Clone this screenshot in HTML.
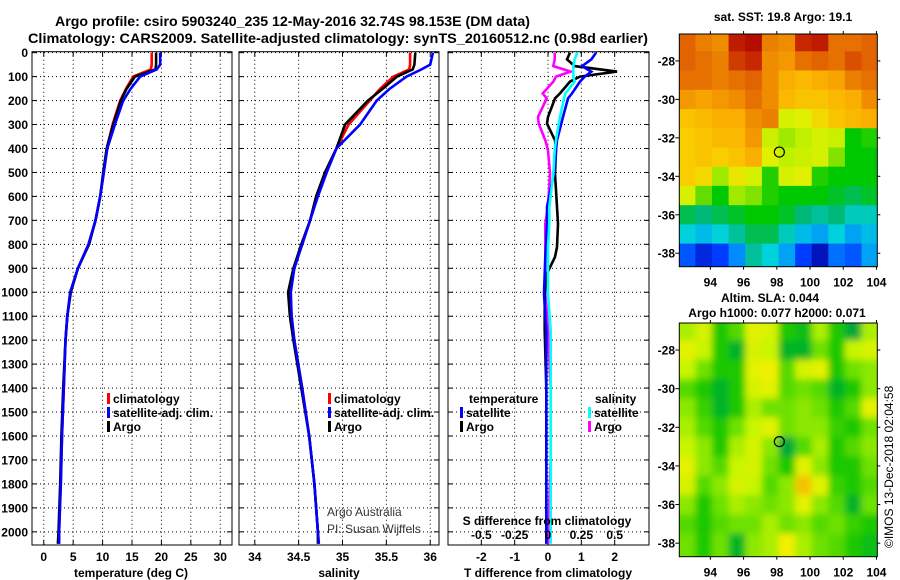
<!DOCTYPE html>
<html><head><meta charset="utf-8"><style>
html,body{margin:0;padding:0;background:#fff;}
svg{display:block;font-family:"Liberation Sans",sans-serif;}
.b{font-weight:bold;font-size:12px;}
</style></head><body>
<svg id="chart" width="900" height="580" viewBox="0 0 900 580" xmlns="http://www.w3.org/2000/svg">
<defs>
<clipPath id="c1"><rect x="32" y="51.7" width="200" height="493.3"/></clipPath>
<clipPath id="c2"><rect x="239" y="51.7" width="200" height="493.3"/></clipPath>
<clipPath id="c3"><rect x="448" y="51.7" width="201" height="493.3"/></clipPath>
<clipPath id="cm1"><rect x="679.3" y="34" width="198" height="232.7"/></clipPath>
<clipPath id="cm2"><rect x="679.3" y="323" width="198" height="233.7"/></clipPath>
<filter id="blur" x="-5%" y="-5%" width="110%" height="110%"><feGaussianBlur stdDeviation="3.5"/></filter>
</defs>
<text x="55" y="26" class="b" style="font-size:14px" textLength="475" lengthAdjust="spacingAndGlyphs">Argo profile: csiro 5903240_235 12-May-2016 32.74S 98.153E (DM data)</text>
<text x="28" y="43" class="b" style="font-size:14px" textLength="620" lengthAdjust="spacingAndGlyphs">Climatology: CARS2009. Satellite-adjusted climatology: synTS_20160512.nc (0.98d earlier)</text>
<g id="panels"></g>
<g id="maps"></g>
<text transform="translate(893,548) rotate(-90)" style="font-size:12px">©IMOS 13-Dec-2018 02:04:58</text>
</svg>
<script>
// ---------- profile data ----------
const pres = [0,50,70,100,150,200,300,400,500,600,700,800,900,1000,1100,1200,1400,1600,1800,2000,2050];
const tempArgo = [19.1,19.1,19.0,15.5,14.1,13.1,11.8,10.7,10.1,9.6,8.8,7.7,5.8,4.6,4.0,3.7,3.3,3.0,2.8,2.5,2.4];
const tempSat  = [19.8,19.8,19.2,16.4,14.8,13.5,12.1,10.8,10.2,9.6,8.8,7.6,5.8,4.5,4.0,3.7,3.4,3.1,2.9,2.6,2.6];
const tempClim = [18.35,18.35,18.2,15.2,14.0,13.0,11.7,10.7,10.2,9.6,8.8,7.6,5.8,4.5,4.0,3.7,3.4,3.1,2.9,2.6,2.6];
const salArgo = [35.83,35.82,35.80,35.62,35.46,35.29,35.03,34.93,34.80,34.70,34.63,34.53,34.44,34.38,34.40,34.44,34.53,34.62,34.68,34.72,34.72];
const salSat  = [36.03,36.00,35.90,35.73,35.54,35.39,35.20,34.93,34.82,34.72,34.63,34.54,34.45,34.41,34.42,34.45,34.54,34.62,34.68,34.72,34.73];
const salClim = [35.77,35.77,35.76,35.58,35.43,35.31,35.07,34.93,34.80,34.70,34.63,34.54,34.45,34.40,34.42,34.45,34.54,34.62,34.68,34.72,34.73];
// difference profiles
const dPres = [0,28,56,79,100,121,170,191,268,296,366,407,505,644,714,811,853,922,1006,1159,1400,1700,2050];
const dTArgo = [0.66,0.57,0.8,2.07,0.96,0.66,0.36,0.21,0,-0.03,0.21,0.24,0.21,0.27,0.3,0.27,0.21,-0.03,-0.1,-0.1,-0.05,-0.05,-0.05];
const dTSat  = [1.44,1.3,1.02,1.3,1.1,0.96,0.72,0.6,0.45,0.4,0.27,0.24,0.18,-0.03,-0.03,-0.06,-0.08,-0.1,-0.12,-0.05,-0.05,-0.05,-0.05];
const dSSat  = [0.22,0.2,0.19,0.19,0.19,0.2,0.13,0.12,0.09,0.08,0.06,0.05,0.04,0.01,0.01,0.0,0.0,0.0,0.0,0.02,0.02,0.02,0.02];
const dSArgo = [0.05,0.05,0.04,0.17,0.06,0.04,-0.04,-0.01,-0.075,-0.07,-0.02,0.0,0.015,0.0,-0.02,-0.02,-0.02,-0.02,-0.02,0.0,0.02,0.02,0.0];
const pTicks = [0,100,200,300,400,500,600,700,800,900,1000,1100,1200,1300,1400,1500,1600,1700,1800,1900,2000];
const tTicks = [0,5,10,15,20,25,30];
const sTicks = [34,34.5,35,35.5,36];
const sTickLabels = ["34","34.5","35","35.5","36"];
const dTicks = [-2,-1,0,1,2];
const dsTicks = [-0.5,-0.25,0,0.25,0.5];
const dsTickLabels = ["-0.5","-0.25","0","0.25","0.5"];
// ---------- map data (rows lat -27..-38, cols lon 92.6..103.6) ----------
const mapLats = [-27,-28,-29,-30,-31,-32,-33,-34,-35,-36,-37,-38];
const mapLons = [92.6,93.6,94.6,95.6,96.6,97.6,98.6,99.6,100.6,101.6,102.6,103.6];
const sst = [
[20.9,20.7,20.6,21.3,21.4,20.7,20.6,21.2,21.3,20.8,20.8,20.9],
[20.9,20.8,20.7,21.1,21.2,20.6,20.5,20.8,20.9,20.8,21.0,20.9],
[20.8,20.8,20.7,20.8,20.9,20.6,20.3,20.2,20.3,20.4,20.7,20.8],
[20.5,20.4,20.5,20.6,20.8,20.6,20.2,20.1,20.1,20.2,20.3,20.6],
[20.1,20.2,20.3,20.3,20.6,20.7,19.6,19.7,19.9,20.1,20.2,20.3],
[20.0,20.1,20.2,20.2,20.5,19.5,19.3,19.4,19.6,19.5,18.8,18.9],
[20.0,20.1,20.0,20.1,20.3,19.7,19.4,19.5,19.6,19.2,18.8,18.8],
[20.0,19.9,19.3,19.8,19.6,18.9,19.6,19.7,18.9,18.8,18.8,18.8],
[19.6,19.1,18.8,19.3,19.2,18.9,18.8,18.8,18.8,18.7,18.6,18.7],
[18.6,18.5,18.6,18.7,18.8,18.8,18.7,18.5,18.4,18.5,18.3,18.3],
[18.2,18.1,18.2,18.4,18.6,18.6,18.3,18.1,18.0,18.2,18.0,18.1],
[17.7,17.5,17.6,17.9,18.4,18.2,18.0,17.6,17.4,17.8,17.7,18.0]];
const sla = [
[0.05,0.07,0.0,0.02,0.08,0.07,0.0,-0.01,0.05,0.0,-0.03,0.05],
[0.08,0.06,0.0,-0.02,0.07,0.06,-0.02,-0.02,0.03,0.0,0.06,0.07],
[0.06,0.03,0.0,0.0,0.08,0.09,0.02,0.07,0.08,0.0,0.03,0.04],
[0.02,0.0,-0.02,0.0,0.07,0.08,0.02,0.03,0.02,-0.02,0.0,0.04],
[0.04,0.01,-0.02,0.0,0.05,0.03,0.03,0.04,0.03,0.0,0.02,0.08],
[0.05,0.02,0.0,0.03,0.06,0.08,0.03,0.04,0.04,0.01,0.0,0.03],
[0.06,0.04,0.0,0.05,0.07,0.04,-0.03,0.02,0.05,0.0,0.02,0.04],
[0.08,0.04,0.02,0.06,0.07,0.03,0.0,0.08,0.04,0.0,0.0,0.03],
[0.07,0.02,0.04,0.07,0.06,0.02,0.04,0.13,0.08,0.01,0.0,0.02],
[0.04,0.0,0.03,0.05,0.04,0.03,0.04,0.08,0.04,0.02,-0.02,0.03],
[0.02,0.0,0.02,0.03,0.03,0.05,0.03,0.04,0.02,0.03,0.01,0.0],
[0.03,0.0,0.03,-0.02,0.04,0.05,0.09,0.05,0.03,0.02,0.0,-0.01]];
const latTicks = [-28,-30,-32,-34,-36,-38];
const lonTicks = [94,96,98,100,102,104];
const argoLon = 98.153, argoLat = -32.74;

const NS = "http://www.w3.org/2000/svg";
function mk(tag, attrs, parent, text){const e=document.createElementNS(NS,tag);for(const k in attrs)e.setAttribute(k,attrs[k]);if(text!==undefined)e.textContent=text;parent.appendChild(e);return e;}
const lin=(d0,d1,r0,r1)=>v=>r0+(v-d0)*(r1-r0)/(d1-d0);
const Y0=51.7,Y1=545;
const yP=lin(-4,2055,Y0,Y1);
const panels=document.getElementById('panels');
const P=[
 {x0:32,x1:232,x:lin(-2,32,32,232),clip:'c1',name:'temperature-panel'},
 {x0:239,x1:439,x:lin(33.82,36.1,239,439),clip:'c2',name:'salinity-panel'},
 {x0:448,x1:649,x:lin(-3,3.03,448,649),clip:'c3',name:'difference-panel'}];
P.forEach((p,i)=>{
 const g=mk('g',{},panels);
 
 
 const grid=mk('g',{stroke:'#000','stroke-width':1,'stroke-dasharray':'1 3'},g);
 
 
 pTicks.forEach(t=>{const y=yP(t);mk('line',{x1:p.x0,x2:p.x1,y1:y,y2:y},grid);
  mk('line',{x1:p.x0,x2:p.x0+5,y1:y,y2:y,stroke:'#000'},g);
  mk('line',{x1:p.x1-5,x2:p.x1,y1:y,y2:y,stroke:'#000'},g);
 });
 const xt=i==0?tTicks:i==1?sTicks:dTicks;
 xt.forEach(t=>{const x=p.x(t);mk('line',{x1:x,x2:x,y1:Y0,y2:Y1},grid);});
 mk('rect',{x:p.x0,y:Y0,width:p.x1-p.x0,height:Y1-Y0,fill:'none',stroke:'#000','stroke-width':1},g);
 xt.forEach((t,k)=>{const x=p.x(t);
  mk('line',{x1:x,x2:x,y1:Y1,y2:Y1-5,stroke:'#000'},g);
  mk('line',{x1:x,x2:x,y1:Y0,y2:Y0+5,stroke:'#000'},g);
  const lab=mk('text',{x:x,y:561,'text-anchor':'middle',class:'b'},g,i==1?sTickLabels[k]:String(t));
  
  
 });
});
pTicks.forEach(t=>{const l=mk('text',{x:28,y:yP(t)+4.5,'text-anchor':'end',class:'b'},panels,String(t));
 
 });
function line(p,xs,ys,col,name,w){const g=mk('g',{'clip-path':'url(#'+p.clip+')'},panels);
 const pts=xs.map((v,k)=>p.x(v).toFixed(1)+','+yP(ys[k]).toFixed(1)).join(' ');
 const e=mk('polyline',{points:pts,fill:'none',stroke:col,'stroke-width':w||2.6,'stroke-linejoin':'miter'},g);
 
 }
line(P[0],tempClim,pres,'#ff0000','temperature-climatology-line');
line(P[0],tempArgo,pres,'#000000','temperature-argo-line');
line(P[0],tempSat,pres,'#0000ff','temperature-satellite-line');
line(P[1],salClim,pres,'#ff0000','salinity-climatology-line');
line(P[1],salArgo,pres,'#000000','salinity-argo-line');
line(P[1],salSat,pres,'#0000ff','salinity-satellite-line');
line(P[2],dSArgo.map(v=>v*4),dPres,'#ff00ff','s-diff-argo-line');
line(P[2],dTArgo,dPres,'#000000','t-diff-argo-line');
line(P[2],dTSat,dPres,'#0000ff','t-diff-satellite-line');
line(P[2],dSSat.map(v=>v*4),dPres,'#00ffff','s-diff-satellite-line');
[['temperature (deg C)',131,'x-axis-title-temperature'],['salinity',339,'x-axis-title-salinity'],['T difference from climatology',548,'x-axis-title-t-difference']].forEach(a=>{
 const t=mk('text',{x:a[1],y:577,'text-anchor':'middle',class:'b'},panels,a[0]);
 
 });
const st=mk('text',{x:547,y:525,'text-anchor':'middle',class:'b'},panels,'S difference from climatology');


dsTicks.forEach((t,k)=>{const x=P[2].x(t*4);const l=mk('text',{x:x,y:539,'text-anchor':'middle',class:'b'},panels,dsTickLabels[k]);
 
 });
function legend(x,y,col,label){const g=mk('g',{},panels);
 
 
 mk('rect',{x:x,y:y-10,width:3,height:11,fill:col},g);
 mk('text',{x:x+6,y:y,class:'b'},g,label);}
legend(107,403,'#ff0000','climatology');legend(107,417,'#0000ff','satellite-adj. clim.');legend(107,431,'#000000','Argo');
legend(328,403,'#ff0000','climatology');legend(328,417,'#0000ff','satellite-adj. clim.');legend(328,431,'#000000','Argo');
const lt=mk('text',{x:469,y:403,class:'b'},panels,'temperature');
legend(460,417,'#0000ff','satellite');legend(460,431,'#000000','Argo');
const ls=mk('text',{x:595,y:403,class:'b'},panels,'salinity');
legend(588,417,'#00ffff','satellite');legend(588,431,'#ff00ff','Argo');
const c1=mk('text',{x:327,y:516,style:'font-size:12px;fill:#333'},panels,'Argo Australia');
const c2=mk('text',{x:327,y:533,style:'font-size:12px;fill:#333'},panels,'PI: Susan Wijffels');

// ---------- maps ----------
function scaleColor(stops){return v=>{if(v<=stops[0][0])return 'rgb('+stops[0][1].join(',')+')';
 for(let i=1;i<stops.length;i++){if(v<=stops[i][0]){const a=stops[i-1],b=stops[i];const f=(v-a[0])/(b[0]-a[0]);
 return 'rgb('+a[1].map((c,k)=>Math.round(c+(b[1][k]-c)*f)).join(',')+')';}}
 return 'rgb('+stops[stops.length-1][1].join(',')+')';};}
const sstCol=scaleColor([[17.3,[0,0,150]],[17.6,[0,60,255]],[17.9,[0,140,255]],[18.2,[0,210,220]],[18.5,[0,185,120]],[18.8,[0,200,0]],[19.1,[100,220,0]],[19.4,[190,240,0]],[19.7,[225,240,0]],[20.0,[250,205,0]],[20.3,[250,175,0]],[20.6,[240,140,0]],[20.9,[225,100,0]],[21.2,[200,40,0]],[21.5,[170,0,0]]]);
const slaCol=scaleColor([[-0.05,[0,150,90]],[-0.02,[0,180,40]],[0.0,[30,200,0]],[0.03,[110,225,0]],[0.06,[200,245,0]],[0.09,[240,240,0]],[0.13,[245,195,0]]]);
const maps=document.getElementById('maps');
const MX0=679.3,MX1=877.3;
const mx=lin(92.13,104.05,MX0,MX1);
function drawMap(top,bot,vals,col,clip,name,blur){
 const my=lin(-26.6,-38.7,top,bot);
 const g=mk('g',{},maps);
 const cg=mk('g',{'clip-path':'url(#'+clip+')'},g);
 const hg=mk('g',blur?{filter:'url(#blur)'}:{},cg);
 vals.forEach((row,r)=>row.forEach((v,c)=>{
  const x0=mx(mapLons[c]-0.5)-(c==0?12:0),x1=mx(mapLons[c]+0.5)+(c==row.length-1?12:0);
  const y0=my(mapLats[r]+0.5)-(r==0?12:0),y1=my(mapLats[r]-0.5)+(r==vals.length-1?12:0);
  const e=mk('rect',{x:x0.toFixed(1),y:y0.toFixed(1),width:(x1-x0+0.6).toFixed(1),height:(y1-y0+0.6).toFixed(1),fill:col(v)},hg);
  
  
 }));
 mk('rect',{x:MX0,y:top,width:MX1-MX0,height:bot-top,fill:'none',stroke:'#000'},g);
 const ci=mk('circle',{cx:mx(argoLon),cy:my(argoLat),r:5,fill:'none',stroke:'#000','stroke-width':1.2},g);
 
 latTicks.forEach(t=>{const y=my(t);mk('line',{x1:MX0-4,x2:MX0,y1:y,y2:y,stroke:'#000'},g);mk('line',{x1:MX1,x2:MX1+3,y1:y,y2:y,stroke:'#000'},g);
  const l=mk('text',{x:675,y:y+4.5,'text-anchor':'end',class:'b'},g,String(t));});
 lonTicks.forEach(t=>{const x=mx(t);mk('line',{x1:x,x2:x,y1:bot,y2:bot+3,stroke:'#000'},g);mk('line',{x1:x,x2:x,y1:top-3,y2:top,stroke:'#000'},g);
  const l=mk('text',{x:x,y:bot+20,'text-anchor':'middle',class:'b'},g,String(t));});
}
drawMap(34,266.7,sst,sstCol,'cm1','sst-map',false);
drawMap(323,556.7,sla,slaCol,'cm2','sla-map',true);
const t1=mk('text',{x:783,y:21,'text-anchor':'middle',class:'b'},maps,'sat. SST: 19.8 Argo: 19.1');
const t2=mk('text',{x:770,y:302,'text-anchor':'middle',class:'b'},maps,'Altim. SLA: 0.044');
const t3=mk('text',{x:777,y:317,'text-anchor':'middle',class:'b'},maps,'Argo h1000: 0.077 h2000: 0.071');
</script>
</body></html>
